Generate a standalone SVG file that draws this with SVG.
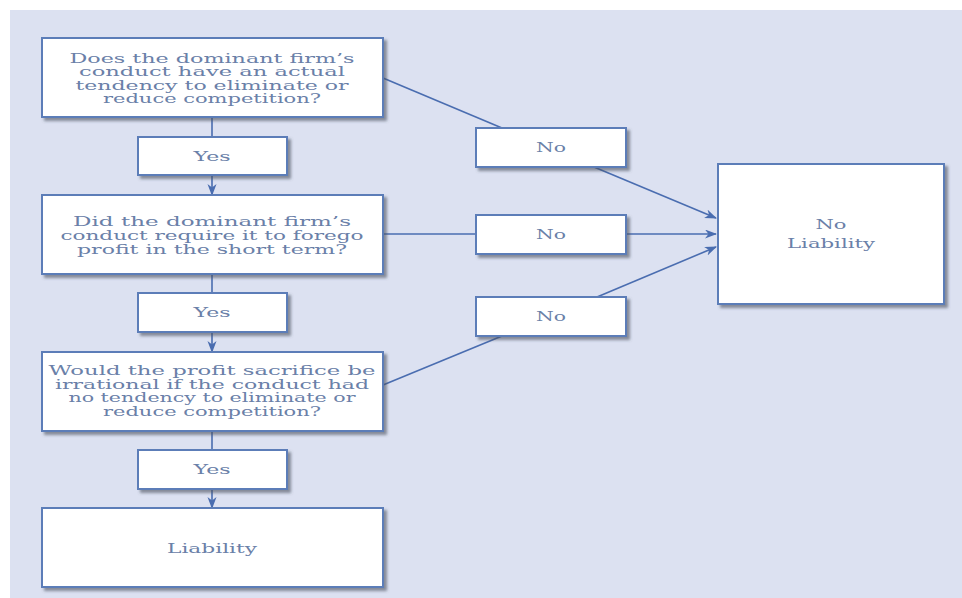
<svg xmlns="http://www.w3.org/2000/svg" width="962" height="598" viewBox="0 0 962 598">
<defs>
<filter id="sh" x="-10%" y="-10%" width="130%" height="140%">
<feDropShadow dx="3" dy="3" stdDeviation="1.5" flood-color="#4a4f5e" flood-opacity="0.6"/>
</filter>
<marker id="ah" markerWidth="12" markerHeight="10" refX="11" refY="4.5" orient="auto" markerUnits="userSpaceOnUse">
<path d="M0,0 L12,4.5 L0,9 L3.5,4.5 z" fill="#4a6db0"/>
</marker>
</defs>
<style>
.box{fill:#ffffff;stroke:#5b7db8;stroke-width:2;filter:url(#sh)}
.t{font-family:"DejaVu Serif","Liberation Serif",serif;font-size:13.5px;fill:#6a80a8;text-anchor:middle}
.c{stroke:#4a6db0;stroke-width:1.6;fill:none}
</style>
<rect x="0" y="0" width="962" height="598" fill="#ffffff"/>
<rect x="10" y="10" width="952" height="588" fill="#dce1f1"/>
<g id="connectors">
<line class="c" x1="212" y1="117" x2="212" y2="195" marker-end="url(#ah)"/>
<line class="c" x1="212" y1="274" x2="212" y2="352" marker-end="url(#ah)"/>
<line class="c" x1="212" y1="431" x2="212" y2="508" marker-end="url(#ah)"/>
<line class="c" x1="383" y1="78" x2="502" y2="128"/>
<line class="c" x1="594" y1="167" x2="716" y2="218" marker-end="url(#ah)"/>
<line class="c" x1="383" y1="234" x2="476" y2="234"/>
<line class="c" x1="626" y1="234" x2="716" y2="234" marker-end="url(#ah)"/>
<line class="c" x1="383" y1="385" x2="502" y2="336"/>
<line class="c" x1="597" y1="297" x2="716" y2="247" marker-end="url(#ah)"/>
</g>
<g id="q1">
<rect class="box" x="42" y="38" width="341" height="79"/>
<text class="t" x="212" y="62.5" textLength="285" lengthAdjust="spacingAndGlyphs">Does the dominant firm’s</text>
<text class="t" x="212" y="76" textLength="266" lengthAdjust="spacingAndGlyphs">conduct have an actual</text>
<text class="t" x="212" y="89.5" textLength="273" lengthAdjust="spacingAndGlyphs">tendency to eliminate or</text>
<text class="t" x="212" y="103" textLength="218" lengthAdjust="spacingAndGlyphs">reduce competition?</text>
</g>
<g id="yes1">
<rect class="box" x="138" y="137" width="149" height="38"/>
<text class="t" x="212" y="161" textLength="37" lengthAdjust="spacingAndGlyphs">Yes</text>
</g>
<g id="q2">
<rect class="box" x="42" y="195" width="341" height="79"/>
<text class="t" x="212" y="226" textLength="278" lengthAdjust="spacingAndGlyphs">Did the dominant firm’s</text>
<text class="t" x="212" y="240" textLength="303" lengthAdjust="spacingAndGlyphs">conduct require it to forego</text>
<text class="t" x="212" y="253.5" textLength="270" lengthAdjust="spacingAndGlyphs">profit in the short term?</text>
</g>
<g id="yes2">
<rect class="box" x="138" y="293" width="149" height="39"/>
<text class="t" x="212" y="317" textLength="37" lengthAdjust="spacingAndGlyphs">Yes</text>
</g>
<g id="q3">
<rect class="box" x="42" y="352" width="341" height="79"/>
<text class="t" x="212" y="375" textLength="327" lengthAdjust="spacingAndGlyphs">Would the profit sacrifice be</text>
<text class="t" x="212" y="388.5" textLength="314" lengthAdjust="spacingAndGlyphs">irrational if the conduct had</text>
<text class="t" x="212" y="402" textLength="287" lengthAdjust="spacingAndGlyphs">no tendency to eliminate or</text>
<text class="t" x="212" y="416" textLength="218" lengthAdjust="spacingAndGlyphs">reduce competition?</text>
</g>
<g id="yes3">
<rect class="box" x="138" y="450" width="149" height="39"/>
<text class="t" x="212" y="474" textLength="37" lengthAdjust="spacingAndGlyphs">Yes</text>
</g>
<g id="liability">
<rect class="box" x="42" y="508" width="341" height="79"/>
<text class="t" x="212" y="553" textLength="90" lengthAdjust="spacingAndGlyphs">Liability</text>
</g>
<g id="no1">
<rect class="box" x="476" y="128" width="150" height="39"/>
<text class="t" x="551" y="152" textLength="30" lengthAdjust="spacingAndGlyphs">No</text>
</g>
<g id="no2">
<rect class="box" x="476" y="215" width="150" height="39"/>
<text class="t" x="551" y="239" textLength="30" lengthAdjust="spacingAndGlyphs">No</text>
</g>
<g id="no3">
<rect class="box" x="476" y="297" width="150" height="39"/>
<text class="t" x="551" y="321" textLength="30" lengthAdjust="spacingAndGlyphs">No</text>
</g>
<g id="noliability">
<rect class="box" x="718" y="164" width="226" height="140"/>
<text class="t" x="831" y="229" textLength="31" lengthAdjust="spacingAndGlyphs">No</text>
<text class="t" x="831" y="248" textLength="88" lengthAdjust="spacingAndGlyphs">Liability</text>
</g>
</svg>
